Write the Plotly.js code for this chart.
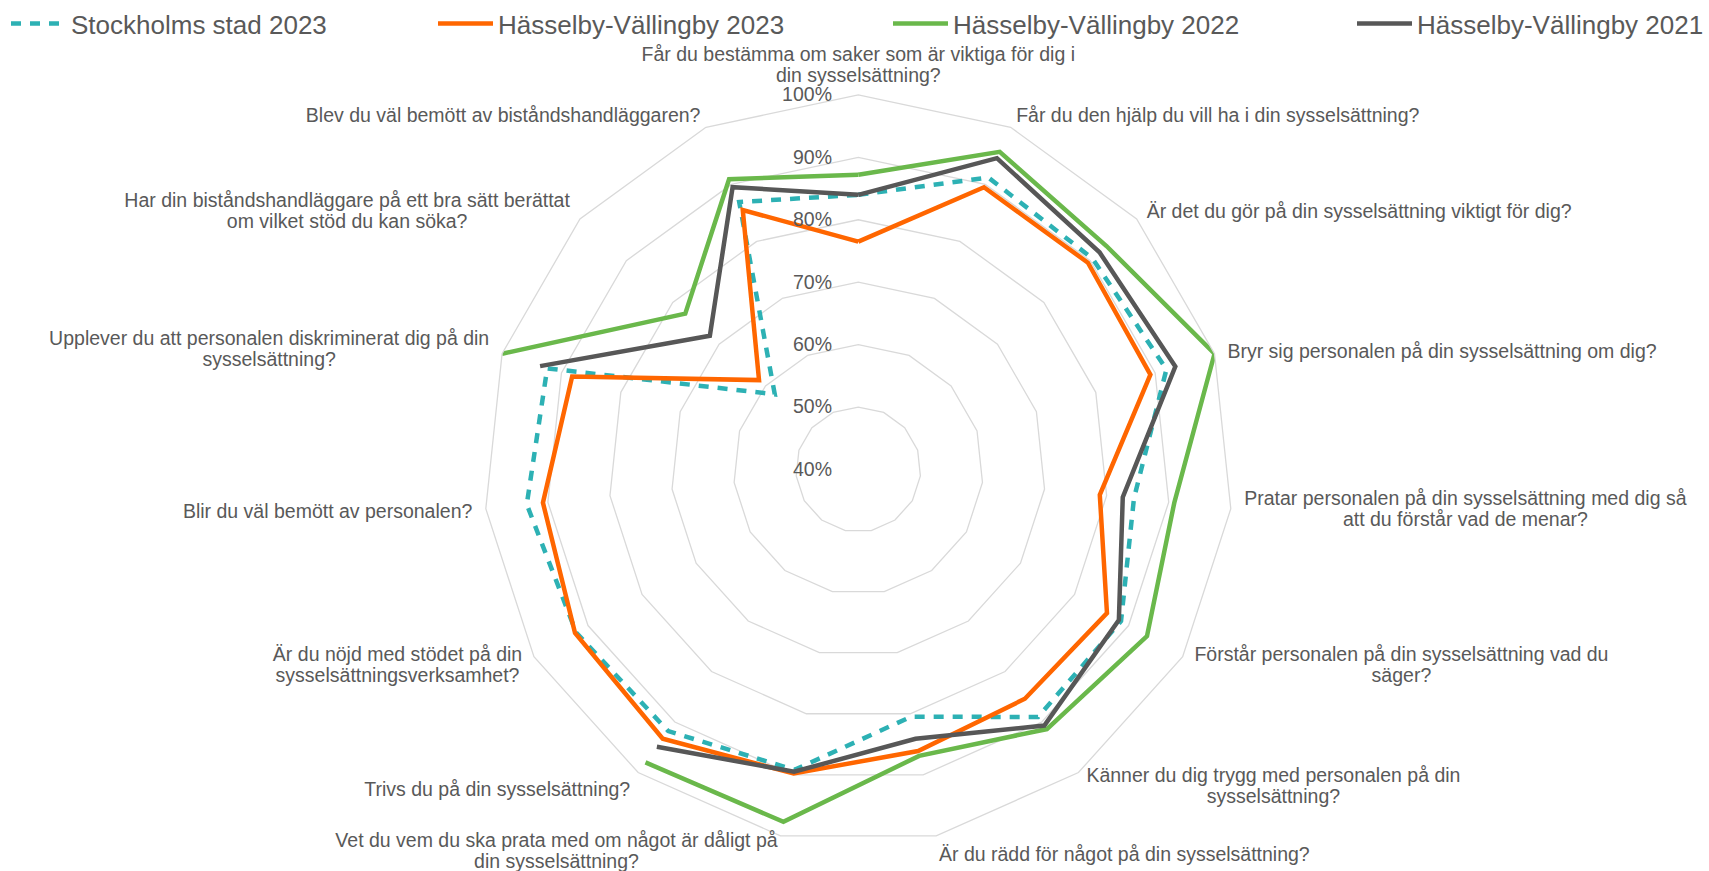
<!DOCTYPE html>
<html><head><meta charset="utf-8">
<script src="https://cdn.plot.ly/plotly-3.0.1.min.js"></script>
<style>html,body{margin:0;padding:0;background:#fff;} #chart{width:1709px;height:871px;}</style>
</head><body><div id="chart"></div>
<script>
const categories = [
  'Får du bestämma om saker som är viktiga för dig i din sysselsättning?',
  'Får du den hjälp du vill ha i din sysselsättning?',
  'Är det du gör på din sysselsättning viktigt för dig?',
  'Bryr sig personalen på din sysselsättning om dig?',
  'Pratar personalen på din sysselsättning med dig så att du förstår vad de menar?',
  'Förstår personalen på din sysselsättning vad du säger?',
  'Känner du dig trygg med personalen på din sysselsättning?',
  'Är du rädd för något på din sysselsättning?',
  'Vet du vem du ska prata med om något är dåligt på din sysselsättning?',
  'Trivs du på din sysselsättning?',
  'Är du nöjd med stödet på din sysselsättningsverksamhet?',
  'Blir du väl bemött av personalen?',
  'Upplever du att personalen diskriminerat dig på din sysselsättning?',
  'Har din biståndshandläggare på ett bra sätt berättat om vilket stöd du kan söka?',
  'Blev du väl bemött av biståndshandläggaren?'
];
const tickLabels = [
  'Får du bestämma om saker som är viktiga för dig i<br>din sysselsättning?',
  'Får du den hjälp du vill ha i din sysselsättning?',
  'Är det du gör på din sysselsättning viktigt för dig?',
  'Bryr sig personalen på din sysselsättning om dig?',
  'Pratar personalen på din sysselsättning med dig så<br>att du förstår vad de menar?',
  'Förstår personalen på din sysselsättning vad du<br>säger?',
  'Känner du dig trygg med personalen på din<br>sysselsättning?',
  'Är du rädd för något på din sysselsättning?',
  'Vet du vem du ska prata med om något är dåligt på<br>din sysselsättning?',
  'Trivs du på din sysselsättning?',
  'Är du nöjd med stödet på din<br>sysselsättningsverksamhet?',
  'Blir du väl bemött av personalen?',
  'Upplever du att personalen diskriminerat dig på din<br>sysselsättning?',
  'Har din biståndshandläggare på ett bra sätt berättat<br>om vilket stöd du kan söka?',
  'Blev du väl bemött av biståndshandläggaren?'
];
const seriesNames = ['Stockholms stad 2023', 'Hässelby-Vällingby 2023', 'Hässelby-Vällingby 2022', 'Hässelby-Vällingby 2021'];
const stockholm2023 = [84.0, 91.2, 90.5, 91.9, 84.4, 88.6, 89.0, 80.5, 89.2, 91.8, 92.2, 93.4, 92.4, 58.0, 86.9];
const hv2023 =        [76.5, 89.5, 89.5, 89.2, 78.9, 86.0, 85.4, 86.1, 89.8, 93.3, 92.4, 90.8, 88.2, 61.4, 85.5];
const hv2022 =        [87.2, 95.7, 93.5, 100.0, 90.9, 93.4, 91.4, 86.9, 97.7, 98.0, null, null, 100.0, 77.3, 90.9];
const hv2021 =        [84.0, 94.6, 92.0, 93.4, 82.6, 88.2, 90.7, 84.1, 89.5, 94.9, null, null, 93.6, 72.0, 89.5];
const radialTicks = [40, 50, 60, 70, 80, 90, 100];

const colors = ['#2DB1B4', '#FF6600', '#6AB84B', '#575757'];
const dashes = ['10px,9px', 'solid', 'solid', 'solid'];
const legendWidths = [357, 385, 394, 0];
const seriesValues = [stockholm2023, hv2023, hv2022, hv2021];

const closedTheta = categories.concat([categories[0]]);
const traces = seriesValues.map((vals, i) => ({
  type: 'scatterpolar',
  mode: 'lines',
  name: seriesNames[i],
  r: vals.concat([vals[0]]),
  theta: closedTheta,
  connectgaps: false,
  cliponaxis: false,
  line: {color: colors[i], width: 4.5, dash: dashes[i]},
  legendwidth: legendWidths[i] || undefined,
  hoverinfo: 'skip'
}));

const W = 1709, H = 871, T = 48;
const cx = 858.3, cy = 469, R = 375;
const plotH = H - T;
const layout = {
  width: W, height: H,
  margin: {l: 0, r: 0, t: T, b: 0, pad: 0},
  paper_bgcolor: '#ffffff',
  font: {family: '"Liberation Sans", Arial, sans-serif', size: 19.5, color: '#595959'},
  showlegend: true,
  legend: {
    orientation: 'h', x: 24 / W, xanchor: 'left', y: 1 + 2 / plotH, yanchor: 'bottom',
    itemwidth: 55,
    font: {size: 26, color: '#595959'}, bgcolor: 'rgba(0,0,0,0)', borderwidth: 0
  },
  polar: {
    domain: {
      x: [(cx - R) / W, (cx + R) / W],
      y: [(plotH - (cy - T) - R) / plotH, (plotH - (cy - T) + R) / plotH]
    },
    bgcolor: '#ffffff',
    gridshape: 'linear',
    radialaxis: {
      range: [40, 100], tickmode: 'array', tickvals: radialTicks,
      ticktext: radialTicks.map(v => v + '%'),
      angle: 90, side: 'counterclockwise', tickangle: 90,
      showline: false, ticks: 'outside', ticklen: 19, tickcolor: 'rgba(0,0,0,0)',
      gridcolor: '#d9d9d9', gridwidth: 1.3,
      tickfont: {size: 19.5, color: '#595959'}
    },
    angularaxis: {
      type: 'category', categoryorder: 'array', categoryarray: categories,
      tickmode: 'array', tickvals: categories, ticktext: tickLabels,
      direction: 'clockwise', rotation: 90,
      showgrid: false, showline: true, linecolor: '#d9d9d9', linewidth: 1.3,
      ticks: '', tickfont: {size: 19.5, color: '#595959'}
    }
  }
};

Plotly.newPlot('chart', traces, layout, {displayModeBar: false, staticPlot: true}).then(function(gd) {
  try {
    const plain = tickLabels.map(s => s.replace(/<br>/g, ''));
    const n = categories.length;
    Array.from(gd.querySelectorAll('svg text')).forEach(function(t) {
      const idx = plain.indexOf(t.textContent);
      if (idx < 0) return;
      const th = idx * 2 * Math.PI / n;
      const s = Math.sin(th), c = Math.cos(th);
      const lines = Array.from(t.querySelectorAll('tspan.line'));
      let dx = s * 9, dy = 0;
      if (lines.length > 1) {
        const widths = lines.map(l => l.getComputedTextLength());
        const maxW = Math.max.apply(null, widths);
        const anchor = t.getAttribute('text-anchor') || 'start';
        const x0 = parseFloat(t.getAttribute('x')) || 0;
        let xm = x0;
        if (anchor === 'start') xm = x0 + maxW / 2;
        else if (anchor === 'end') xm = x0 - maxW / 2;
        t.setAttribute('text-anchor', 'middle');
        lines.forEach(function(l, k) { l.setAttribute('x', xm); l.setAttribute('dy', (k * 1.08) + 'em'); });
        if (Math.abs(c) < 0.99) dy = c * 14;
      }
      const tr = t.getAttribute('transform') || '';
      t.setAttribute('transform', tr + ' translate(' + dx.toFixed(2) + ',' + dy.toFixed(2) + ')');
    });
  } catch (e) {}
});
</script>
</body></html>
